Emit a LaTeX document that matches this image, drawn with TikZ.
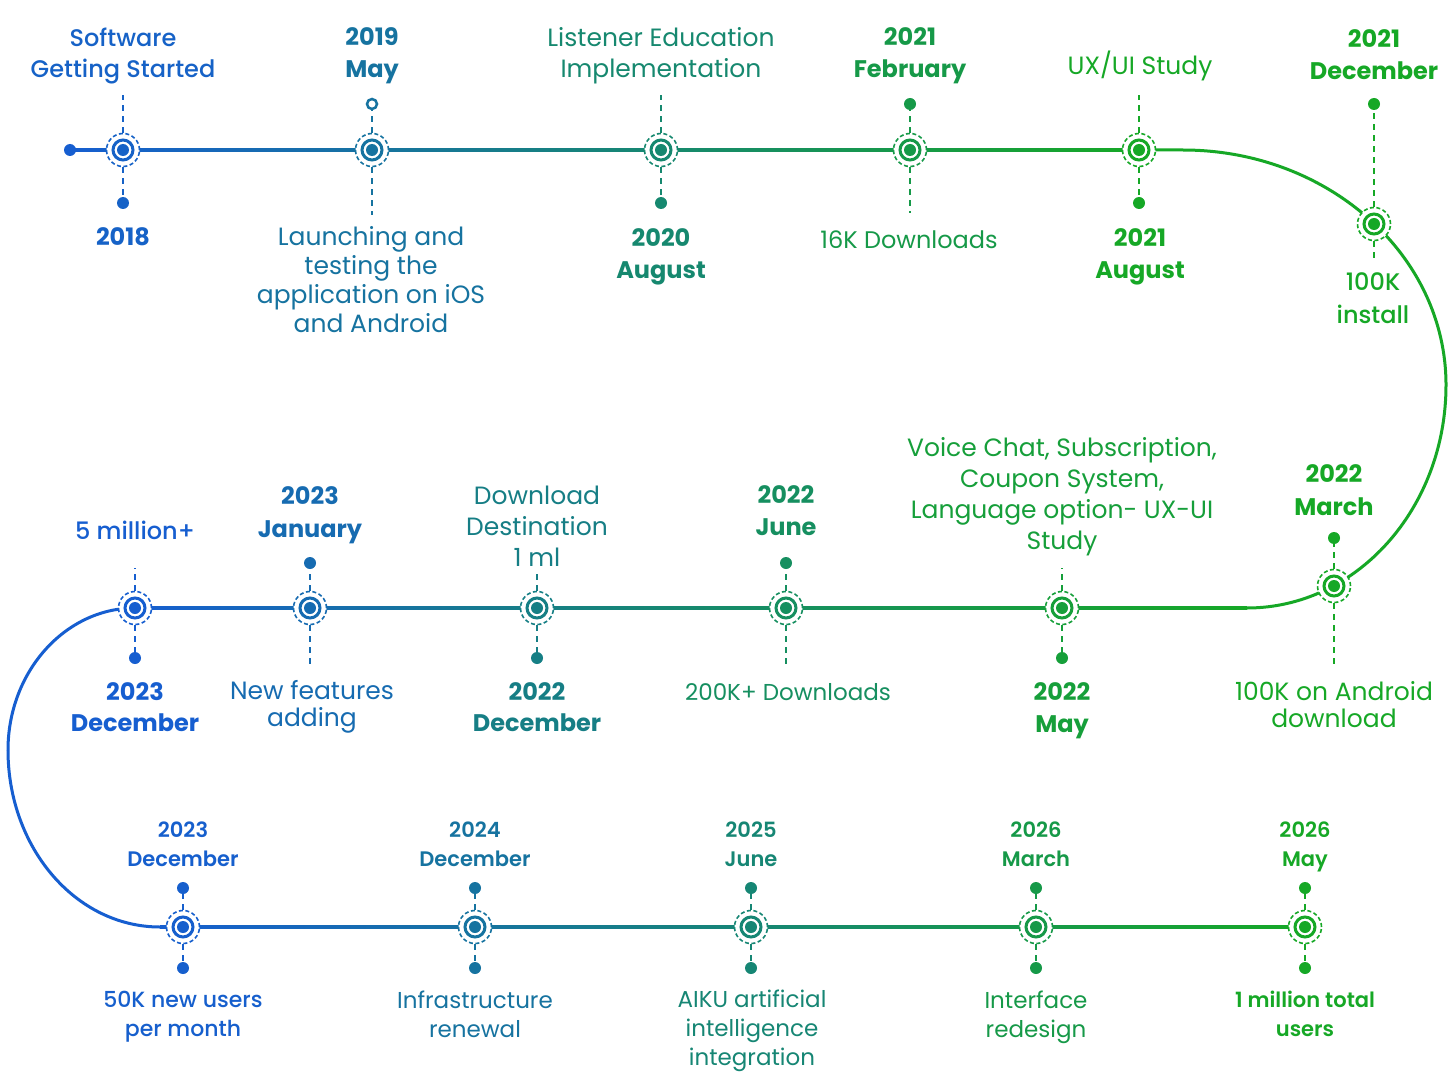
\documentclass[tikz,border=0pt]{standalone}
\usepackage{fontspec}
\setmainfont{Poppins}[BoldFont={* Bold}]
\newfontfamily\medfont{Poppins Medium}
\newfontfamily\semifont{Poppins SemiBold}
\usetikzlibrary{calc}
\definecolor{B}{RGB}{22,94,208}
\definecolor{G}{RGB}{22,168,38}
\colorlet{k1}{G!5!B}
\colorlet{k2}{G!28!B}
\colorlet{k3}{G!57!B}
\colorlet{k4}{G!80!B}
\colorlet{k5}{G}
\colorlet{k6}{G}
\colorlet{k7}{G}
\colorlet{k8}{G!88!B}
\colorlet{k9}{G!66!B}
\colorlet{k10}{G!44!B}
\colorlet{k11}{G!18!B}
\colorlet{k12}{B}
\colorlet{k13}{G!2!B}
\colorlet{k14}{G!28!B}
\colorlet{k15}{G!54!B}
\colorlet{k16}{G!80!B}
\colorlet{k17}{G}
\newcommand{\mk}[3]{%
  \node[outer, draw=#3] (#1) at (#2) {};
  \node[ring, draw=#3] at (#1) {};
  \node[hub, fill=#3] at (#1) {};}
\newcommand{\seg}[4]{\shade[left color=#3, right color=#4] ($(#1)+(0,-1.5)$) rectangle ($(#2)+(0,1.5)$);}
\begin{document}
\begin{tikzpicture}[x=1pt,y=-1pt,
  outer/.style={circle, minimum size=33pt, inner sep=0pt, dash pattern=on 4pt off 2.5pt, line width=1.6pt, fill=white},
  ring/.style={circle, minimum size=20pt, inner sep=0pt, line width=3pt, fill=white},
  hub/.style={circle, minimum size=12pt, inner sep=0pt},
  tip/.style={circle, minimum size=12pt, inner sep=0pt},
  opentip/.style={circle, minimum size=10pt, inner sep=0pt, line width=2.5pt, fill=white},
  stem/.style={line width=2pt, dash pattern=on 6pt off 5pt},
  track/.style={line width=3pt},
  lt/.style={align=center, inner sep=0pt, font=\fontsize{25}{31}\selectfont},
  mt/.style={align=center, inner sep=0pt, font=\fontsize{24}{31}\selectfont\medfont},
  bt/.style={align=center, inner sep=0pt, font=\fontsize{24}{32}\selectfont\bfseries},
  st/.style={align=center, inner sep=0pt, font=\fontsize{23}{29}\selectfont},
  smt/.style={align=center, inner sep=0pt, font=\fontsize{22}{29}\selectfont\medfont},
  sbt/.style={align=center, inner sep=0pt, font=\fontsize{21}{29}\selectfont\semifont}]
\useasboundingbox (0,0) rectangle (1448,1086);
\fill[white] (0,0) rectangle (1448,1086);
% coordinates
\coordinate (s0) at (70,150);
\coordinate (p1) at (123,150);
\coordinate (p2) at (372,150);
\coordinate (p3) at (661,150);
\coordinate (p4) at (910,150);
\coordinate (p5) at (1139,150);
\coordinate (c1) at (1183,150);
\coordinate (p6) at (1374,224);
\coordinate (p7) at (1334,586);
\coordinate (c2) at (1247,608);
\coordinate (p8) at (1062,608);
\coordinate (p9) at (786,608);
\coordinate (p10) at (537,608);
\coordinate (p11) at (310,608);
\coordinate (p12) at (135,608);
\coordinate (c4) at (160,927);
\coordinate (p13) at (183,927);
\coordinate (p14) at (475,927);
\coordinate (p15) at (751,927);
\coordinate (p16) at (1036,927);
\coordinate (p17) at (1305,927);
% track
\seg{s0}{p1}{B}{k1}
\seg{p1}{p2}{k1}{k2}
\seg{p2}{p3}{k2}{k3}
\seg{p3}{p4}{k3}{k4}
\seg{p4}{p5}{k4}{k5}
\draw[track, G] (p5) -- (c1) .. controls (1328,150) and (1446,255) .. (1446,385)
  .. controls (1446,508) and (1357,608) .. (c2);
\seg{p8}{c2}{k8}{G}
\seg{p9}{p8}{k9}{k8}
\seg{p10}{p9}{k10}{k9}
\seg{p11}{p10}{k11}{k10}
\seg{p12}{p11}{k12}{k11}
\draw[track, B] (p12) .. controls (65,608) and (8,672) .. (8,750)
  .. controls (8,848) and (76,927) .. (c4);
\seg{c4}{p13}{B}{k13}
\seg{p13}{p14}{k13}{k14}
\seg{p14}{p15}{k14}{k15}
\seg{p15}{p16}{k15}{k16}
\seg{p16}{p17}{k16}{k17}
\node[tip, fill=B] (start) at (s0) {};
% markers
\mk{m1}{p1}{k1}
\mk{m2}{p2}{k2}
\mk{m3}{p3}{k3}
\mk{m4}{p4}{k4}
\mk{m5}{p5}{k5}
\mk{m6}{p6}{k6}
\mk{m7}{p7}{k7}
\mk{m8}{p8}{k8}
\mk{m9}{p9}{k9}
\mk{m10}{p10}{k10}
\mk{m11}{p11}{k11}
\mk{m12}{p12}{k12}
\mk{m13}{p13}{k13}
\mk{m14}{p14}{k14}
\mk{m15}{p15}{k15}
\mk{m16}{p16}{k16}
\mk{m17}{p17}{k17}
% row 1 stems and tips
\coordinate (u1) at (123,95);
\draw[stem, k1] (m1) -- (u1);
\node[tip, fill=k1] (d1) at (123,203) {};
\draw[stem, k1] (m1) -- (d1);
\node[opentip, draw=k2] (d2) at (372,104) {};
\draw[stem, k2] (m2) -- (d2);
\coordinate (v2) at (372,215);
\draw[stem, k2] (m2) -- (v2);
\coordinate (u3) at (661,95);
\draw[stem, k3] (m3) -- (u3);
\node[tip, fill=k3] (d3) at (661,203) {};
\draw[stem, k3] (m3) -- (d3);
\node[tip, fill=k4] (d4) at (910,104) {};
\draw[stem, k4] (m4) -- (d4);
\coordinate (v4) at (910,213);
\draw[stem, k4] (m4) -- (v4);
\coordinate (u5) at (1139,95);
\draw[stem, k5] (m5) -- (u5);
\node[tip, fill=k5] (d5) at (1139,203) {};
\draw[stem, k5] (m5) -- (d5);
\node[tip, fill=k6] (d6) at (1374,104) {};
\draw[stem, k6] (m6) -- (d6);
\coordinate (v6) at (1374,262);
\draw[stem, k6] (m6) -- (v6);
% row 2 stems and tips
\node[tip, fill=k7] (d7) at (1334,538) {};
\draw[stem, k7] (m7) -- (d7);
\coordinate (v7) at (1334,668);
\draw[stem, k7] (m7) -- (v7);
\coordinate (u8) at (1062,568);
\draw[stem, k8] (m8) -- (u8);
\node[tip, fill=k8] (d8) at (1062,658) {};
\draw[stem, k8] (m8) -- (d8);
\node[tip, fill=k9] (d9) at (786,563) {};
\draw[stem, k9] (m9) -- (d9);
\coordinate (v9) at (786,668);
\draw[stem, k9] (m9) -- (v9);
\coordinate (u10) at (537,572);
\draw[stem, k10] (m10) -- (u10);
\node[tip, fill=k10] (d10) at (537,658) {};
\draw[stem, k10] (m10) -- (d10);
\node[tip, fill=k11] (d11) at (310,563) {};
\draw[stem, k11] (m11) -- (d11);
\coordinate (v11) at (310,668);
\draw[stem, k11] (m11) -- (v11);
\coordinate (u12) at (135,568);
\draw[stem, k12] (m12) -- (u12);
\node[tip, fill=k12] (d12) at (135,658) {};
\draw[stem, k12] (m12) -- (d12);
% row 3 stems and tips
\foreach \i/\x in {13/183,14/475,15/751,16/1036,17/1305}{
  \node[tip, fill=k\i] (a\i) at (\x,888) {};
  \node[tip, fill=k\i] (b\i) at (\x,968) {};
  \draw[stem, k\i] (m\i) -- (a\i);
  \draw[stem, k\i] (m\i) -- (b\i);
}
% row 1 labels
\node[mt, text=k1] (t1) at (123,56) {Software\\Getting Started};
\node[bt, text=k1] (l1) at (123,237) {2018};
\node[bt, text=k2] (t2) at (372,56) {2019\\May};
\node[lt, text=k2, font=\fontsize{25}{29}\selectfont] (l2) at (371,280) {Launching and\\testing the\\application on iOS\\and Android};
\node[lt, text=k3] (t3) at (661,56) {Listener Education\\Implementation};
\node[bt, text=k3] (l3) at (661,257) {2020\\August};
\node[bt, text=k4] (t4) at (910,56) {2021\\February};
\node[lt, text=k4, font=\fontsize{24}{31}\selectfont] (l4) at (909,240) {16K Downloads};
\node[lt, text=k5] (t5) at (1140,66) {UX/UI Study};
\node[bt, text=k5] (l5) at (1140,257) {2021\\August};
\node[bt, text=k6] (t6) at (1374,55) {2021\\December};
\node[mt, text=k6, font=\fontsize{24}{33}\selectfont\medfont] (l6) at (1373,298) {100K\\install};
% row 2 labels
\node[bt, text=k7, font=\fontsize{24}{33}\selectfont\bfseries] (t7) at (1334,490) {2022\\March};
\node[lt, text=k7, font=\fontsize{25}{27}\selectfont] (l7) at (1334,705) {100K on Android\\download};
\node[lt, text=k8] (t8) at (1062,497) {Voice Chat, Subscription,\\Coupon System,\\Language option- UX-UI\\Study};
\node[bt, text=k8] (l8) at (1062,711) {2022\\May};
\node[bt, text=k9] (t9) at (786,511) {2022\\June};
\node[lt, text=k9, font=\fontsize{23}{31}\selectfont] (l9) at (788,692) {200K+ Downloads};
\node[lt, text=k10] (t10) at (537,526) {Download\\Destination\\1 ml};
\node[bt, text=k10, font=\fontsize{24}{31}\selectfont\bfseries] (l10) at (537,707) {2022\\December};
\node[bt, text=k11, font=\fontsize{24}{33}\selectfont\bfseries] (t11) at (310,515) {2023\\January};
\node[lt, text=k11, font=\fontsize{25}{27}\selectfont] (l11) at (312,707) {New features\\adding};
\node[mt, text=k12] (t12) at (135,530) {5 million+};
\node[bt, text=k12, font=\fontsize{24}{31}\selectfont\bfseries] (l12) at (135,707) {2023\\December};
% row 3 labels
\node[sbt, text=k13] (t13) at (183,844) {2023\\December};
\node[smt, text=k13] (l13) at (183,1017) {50K new users\\per month};
\node[sbt, text=k14] (t14) at (475,844) {2024\\December};
\node[st, text=k14] (l14) at (475,1014) {Infrastructure\\renewal};
\node[sbt, text=k15] (t15) at (751,844) {2025\\June};
\node[st, text=k15] (l15) at (752,1031) {AIKU artificial\\intelligence\\integration};
\node[sbt, text=k16] (t16) at (1036,844) {2026\\March};
\node[st, text=k16] (l16) at (1036,1017) {Interface\\redesign};
\node[sbt, text=k17] (t17) at (1305,847) {2026\\May};
\node[sbt, text=k17] (l17) at (1305,1014) {1 million total\\users};
\end{tikzpicture}
\end{document}
